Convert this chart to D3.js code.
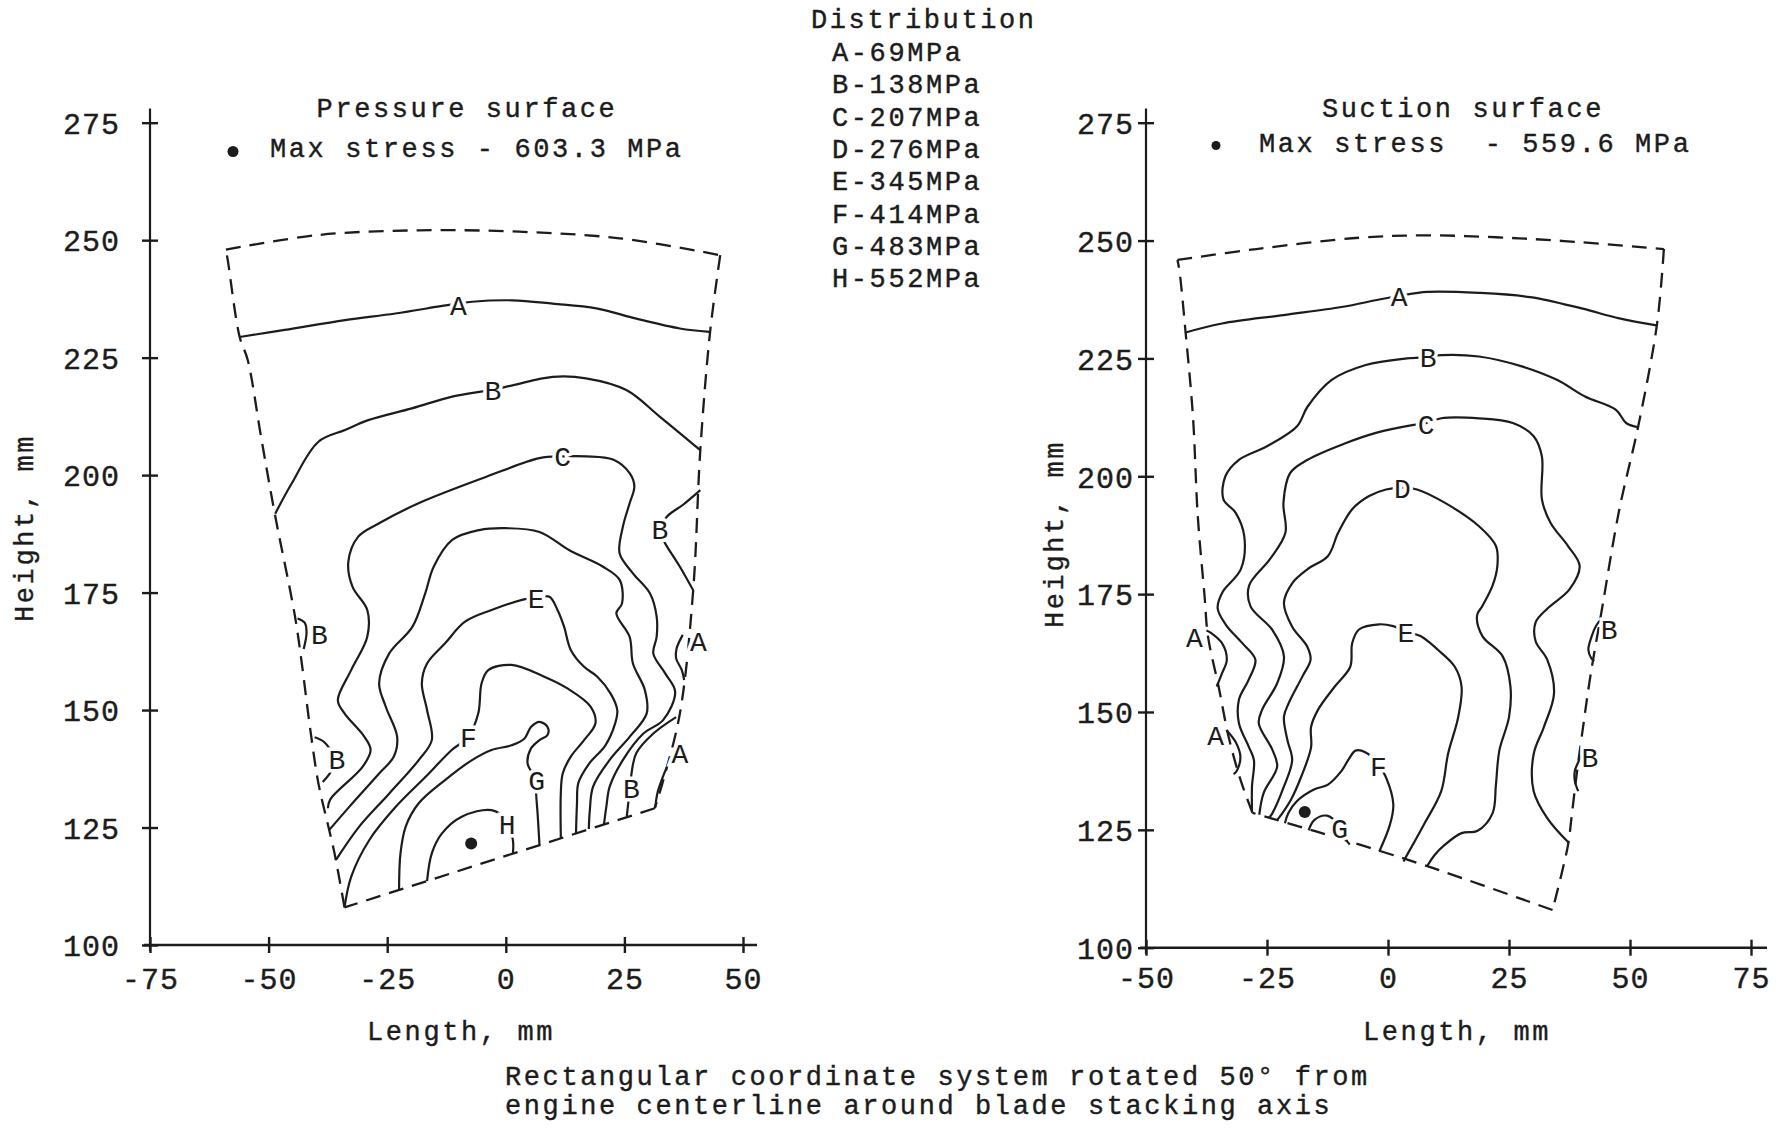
<!DOCTYPE html>
<html>
<head>
<meta charset="utf-8">
<script src="https://cdn.jsdelivr.net/npm/d3@7"></script>
<style>
  body { margin: 0; background: #fff; }
  svg text { font-family: "Liberation Mono", "Courier New", monospace; fill: #1c1c1c; }
  svg text.ink { stroke: #1c1c1c; stroke-width: 0.4px; }
</style>
</head>
<body>
<svg id="chart" width="1783" height="1132"></svg>
<script>
// ---------------- DATA (mm) ----------------
const levelNames = ["A-69MPa", "B-138MPa", "C-207MPa", "D-276MPa", "E-345MPa", "F-414MPa", "G-483MPa", "H-552MPa"];
const yTicks = [100, 125, 150, 175, 200, 225, 250, 275];
const xTicksPressure = [-75, -50, -25, 0, 25, 50];
const xTicksSuction = [-50, -25, 0, 25, 50, 75];

// Pressure surface - blade outline (dashed)
const pressureTop = [[-59.0, 248.0], [-39.5, 251.1], [-18.4, 252.1], [2.8, 251.8], [24.0, 250.4], [45.2, 246.8]];
const pressureRight = [[45.2, 246.8], [43.1, 230.8], [41.0, 205.3], [39.5, 175.5], [36.7, 149.3], [33.2, 135.1], [31.4, 129.1]];
const pressureBottom = [[31.4, 129.1], [-34.0, 108.0]];
const pressureLeft = [[-34.0, 108.0], [-36.1, 119.5], [-37.4, 125.2], [-39.5, 134.4], [-41.3, 146.5], [-43.1, 160.7], [-44.5, 170.3],
  [-48.7, 191.8], [-51.6, 208.2], [-54.4, 224.5], [-56.1, 229.4], [-58.6, 245.7], [-59.0, 248.0]];

// Pressure surface - iso-stress lines
const pressureA = [[-56.1, 229.4], [-46.6, 230.9], [-33.9, 233.0], [-23.3, 234.4], [-13.4, 236.0], [-10.0, 236.5], [-7.1, 236.9],
  [1.4, 237.2], [9.9, 236.5], [19.1, 235.5], [27.5, 233.3], [36.7, 231.2], [42.9, 230.5]];
const pressureB = [[-48.6, 191.8], [-45.2, 198.1], [-39.5, 207.1], [-33.9, 209.6], [-29.0, 211.7], [-19.8, 214.2], [-11.3, 216.7],
  [-2.7, 218.2], [1.4, 219.1], [9.9, 220.9], [16.9, 220.6], [25.4, 218.1], [32.5, 212.4], [41.0, 205.3]];
const pressureBRight = [[41.0, 196.8], [37.5, 193.8], [33.9, 191.1], [32.5, 188.3], [33.2, 186.2], [36.7, 180.5], [39.5, 175.5]];
const pressureBSmallTop = [[-43.9, 169.5], [-42.4, 168.6], [-42.0, 166.5], [-42.6, 163.0]];
const pressureBSmallLow = [[-40.3, 144.2], [-38.3, 143.2], [-36.6, 140.5], [-36.6, 137.5], [-38.6, 134.7]];
const pressureBLow = [[35.9, 148.5], [31.1, 145.0], [27.5, 140.8], [26.5, 136.5], [26.2, 133.3], [25.8, 130.1], [25.5, 127.3]];
const pressureASmall = [[37.3, 166.0], [36.0, 163.1], [35.9, 161.0], [37.1, 158.5], [37.6, 156.4]];
const pressureALow = [[34.2, 138.5], [33.0, 135.5], [32.0, 132.5], [31.5, 129.3]];
const pressureC = [[-37.5, 129.1], [-37.0, 131.0], [-30.2, 137.9], [-28.5, 141.5], [-29.8, 144.3], [-34.0, 149.3], [-35.4, 152.1],
  [-32.6, 158.5], [-29.2, 165.6], [-29.2, 171.3], [-32.3, 176.2], [-33.2, 181.5], [-31.1, 186.9], [-26.8, 189.7], [-18.4, 194.0],
  [-4.2, 199.6], [7.1, 203.6], [12.0, 204.0], [16.9, 204.0], [22.6, 203.3], [26.1, 200.4], [27.1, 197.6], [26.1, 194.0],
  [24.7, 189.1], [24.0, 183.3], [26.8, 179.1], [30.4, 174.8], [31.8, 169.9], [31.8, 165.6], [31.1, 162.0], [33.6, 157.8],
  [35.7, 153.9], [33.2, 147.9], [29.0, 145.0], [24.7, 139.4], [21.9, 133.7], [21.2, 129.5], [20.7, 125.7]];
const pressureD = [[-37.2, 124.5], [-33.0, 129.4], [-26.7, 136.5], [-23.6, 140.1], [-22.9, 144.3], [-25.3, 150.7], [-26.7, 155.7],
  [-24.6, 162.0], [-19.7, 167.7], [-17.0, 174.8], [-15.2, 180.5], [-11.3, 186.2], [-5.6, 188.3], [0.0, 188.7], [7.1, 187.9],
  [13.4, 184.0], [20.5, 180.5], [24.0, 177.7], [24.5, 172.7], [23.3, 170.6], [26.1, 165.6], [26.8, 159.9], [29.3, 154.3],
  [29.7, 149.3], [26.1, 144.3], [21.9, 139.4], [18.4, 133.7], [17.7, 128.5], [17.5, 124.7]];
const pressureE = [[-35.8, 118.1], [-30.9, 125.2], [-24.6, 132.2], [-18.4, 139.3], [-15.6, 143.6], [-16.6, 150.0], [-17.7, 155.7],
  [-16.6, 159.9], [-12.8, 164.2], [-8.6, 168.8], [-3.0, 171.3], [3.6, 173.5], [6.4, 174.0], [9.2, 174.1], [10.9, 171.3],
  [12.3, 167.7], [13.7, 162.8], [16.5, 159.2], [19.3, 157.1], [22.1, 153.5], [23.5, 150.0], [23.0, 147.0], [21.0, 142.5],
  [17.5, 138.5], [15.3, 134.5], [15.0, 130.0], [14.8, 123.8]];
const pressureF = [[-34.0, 108.0], [-32.6, 114.5], [-28.8, 122.3], [-23.2, 129.4], [-16.9, 135.8], [-11.4, 141.5], [-7.9, 144.3],
  [-5.8, 149.3], [-5.1, 155.7], [-3.7, 158.5], [1.2, 159.6], [8.1, 157.1], [13.0, 154.6], [17.9, 150.7], [18.9, 147.2],
  [16.5, 143.6], [13.7, 140.1], [12.0, 136.5], [11.6, 132.3], [11.6, 122.8]];
const pressureG = [[-22.5, 111.7], [-22.2, 119.5], [-21.1, 125.2], [-18.4, 130.1], [-12.8, 135.1], [-7.2, 139.3], [-3.0, 141.5],
  [1.2, 142.5], [3.9, 143.9], [5.3, 146.4], [7.1, 147.5], [8.8, 146.4], [8.8, 144.7], [7.1, 143.6], [5.3, 141.8], [4.6, 138.6],
  [6.4, 135.1], [6.4, 132.2], [6.7, 128.0], [7.1, 121.3]];
const pressureH = [[-16.6, 113.6], [-15.6, 119.5], [-13.5, 123.7], [-9.3, 127.3], [-3.0, 128.7], [0.1, 126.6], [1.5, 122.3], [1.5, 119.5]];
const pressureLabels = [["A", -10.0, 236.3], ["B", -2.7, 218.1], ["C", 12.0, 204.0], ["B", 32.5, 188.6], ["E", 6.4, 173.8],
  ["B", -39.3, 166.1], ["A", 40.6, 164.8], ["F", -7.9, 144.3], ["B", -35.6, 139.6], ["A", 36.7, 140.9], ["B", 26.5, 133.5],
  ["G", 6.5, 135.2], ["H", 0.3, 125.8]];
const pressurePeak = [-7.3, 121.6];

// Suction surface - blade outline (dashed)
const suctionTop = [[-43.5, 245.9], [-27.2, 248.2], [-6.0, 250.6], [8.1, 251.1], [22.3, 250.7], [36.4, 249.9], [57.0, 248.2]];
const suctionRight = [[57.0, 248.2], [55.6, 232.4], [51.7, 210.6], [47.8, 193.0], [44.2, 171.8], [41.8, 157.5], [40.3, 146.8],
  [38.9, 136.1], [37.9, 127.5], [37.2, 121.8], [34.0, 108.0]];
const suctionBottom = [[34.0, 108.0], [8.1, 117.3], [-6.0, 121.9], [-17.3, 125.4], [-28.0, 128.6]];
const suctionLeft = [[-28.0, 128.6], [-30.4, 135.4], [-32.9, 144.6], [-35.0, 155.4], [-37.2, 166.1], [-37.9, 174.6], [-39.3, 191.5],
  [-40.3, 212.7], [-41.8, 230.3], [-43.1, 243.7], [-43.5, 245.9]];

// Suction surface - iso-stress lines
const suctionA = [[-41.8, 230.5], [-34.3, 232.4], [-21.6, 234.2], [-9.6, 235.9], [-1.8, 237.5], [2.5, 238.3], [8.1, 239.1],
  [18.8, 238.9], [29.4, 238.0], [40.0, 235.6], [47.8, 233.5], [55.5, 232.0]];
const suctionASmallTop = [[-37.5, 167.3], [-36.6, 166.8], [-34.3, 164.6], [-33.3, 161.1], [-34.3, 158.2], [-35.4, 155.4]];
const suctionASmallLow = [[-33.4, 146.2], [-31.4, 143.5], [-30.5, 140.5], [-31.2, 137.6], [-31.9, 136.8]];
const suctionB = [[-28.1, 128.8], [-28.1, 134.2], [-27.7, 139.8], [-28.8, 142.7], [-30.8, 147.6], [-30.8, 152.6], [-28.8, 156.8],
  [-27.4, 161.1], [-30.1, 164.6], [-33.5, 168.5], [-35.2, 172.0], [-34.2, 175.4], [-30.4, 180.3], [-29.7, 187.3], [-31.5, 192.3],
  [-34.0, 195.1], [-33.6, 200.0], [-30.8, 203.5], [-25.1, 206.3], [-18.8, 210.6], [-16.6, 214.8], [-11.7, 220.4], [-4.6, 223.6],
  [3.9, 225.0], [8.5, 225.3], [11.0, 225.7], [18.8, 225.4], [28.0, 223.2], [35.0, 220.4], [40.7, 216.9], [47.1, 214.1],
  [49.2, 211.3], [51.7, 210.4]];
const suctionBSmallTop = [[43.9, 169.5], [43.0, 168.3], [42.1, 166.1], [41.4, 163.2], [42.0, 161.4], [42.6, 160.8]];
const suctionBSmallLow = [[40.3, 141.5], [39.6, 140.0], [38.6, 137.5], [38.6, 135.4], [39.3, 133.2]];
const suctionC = [[-26.6, 128.2], [-25.7, 132.8], [-22.9, 138.4], [-23.9, 142.0], [-26.7, 147.6], [-26.0, 150.5], [-22.9, 156.1],
  [-21.5, 161.8], [-23.9, 167.4], [-28.4, 172.4], [-28.7, 176.8], [-24.4, 182.4], [-21.2, 188.0], [-21.6, 194.4], [-20.2, 200.7],
  [-16.6, 203.5], [-8.8, 207.0], [-2.5, 209.2], [5.3, 210.9], [8.1, 211.3], [11.0, 212.3], [18.8, 212.3], [25.8, 211.3],
  [30.1, 208.5], [31.8, 204.2], [31.8, 195.1], [33.6, 190.1], [37.2, 185.2], [39.6, 181.0], [37.5, 176.0], [33.0, 172.0],
  [30.5, 169.0], [30.5, 165.0], [32.9, 161.1], [34.3, 153.9], [32.2, 146.8], [30.1, 141.1], [30.1, 133.2], [32.9, 127.5], [37.3, 122.3]];
const suctionD = [[-24.6, 127.5], [-23.9, 128.5], [-21.5, 134.2], [-19.8, 139.8], [-20.8, 144.1], [-21.5, 149.0], [-20.5, 151.9],
  [-17.7, 157.5], [-16.0, 161.1], [-16.7, 163.9], [-19.8, 168.1], [-21.5, 173.1], [-19.8, 177.3], [-16.6, 180.3], [-12.4, 183.1],
  [-10.3, 188.0], [-7.4, 193.0], [-3.9, 195.8], [-0.4, 197.2], [3.2, 197.6], [6.0, 197.2], [11.7, 194.4], [18.8, 189.4],
  [22.3, 185.2], [22.6, 181.0], [21.6, 176.8], [19.5, 172.5], [18.4, 170.5], [19.5, 166.1], [23.7, 161.8], [25.3, 155.4],
  [25.0, 148.9], [23.0, 141.8], [22.3, 134.6], [21.6, 128.5], [18.5, 124.8], [15.2, 124.3], [11.7, 121.8], [9.6, 119.6], [8.1, 117.3]];
const suctionE = [[-23.0, 127.0], [-22.0, 128.3], [-20.0, 131.5], [-18.0, 136.1], [-15.9, 142.5], [-15.9, 146.8], [-14.5, 150.4],
  [-11.0, 155.4], [-7.8, 159.6], [-7.4, 164.6], [-6.0, 167.5], [-1.8, 168.6], [1.1, 168.2], [3.9, 167.0], [6.7, 166.1],
  [10.3, 163.2], [13.8, 159.6], [15.2, 155.4], [14.5, 148.9], [12.4, 141.1], [11.0, 133.2], [7.4, 126.1], [3.9, 119.6], [3.2, 118.3]];
const suctionF = [[-21.3, 126.4], [-20.6, 128.5], [-18.8, 131.1], [-15.2, 133.6], [-12.4, 134.6], [-9.6, 137.5], [-8.1, 140.0],
  [-6.7, 141.8], [-4.6, 141.4], [-1.8, 138.6], [-0.4, 136.1], [1.1, 130.4], [0.4, 126.1], [-1.8, 120.4]];
const suctionG = [[-16.4, 124.9], [-15.2, 127.1], [-12.6, 128.0], [-10.0, 125.8], [-8.6, 122.8], [-7.9, 121.9]];
const suctionLabels = [["A", 2.3, 238.3], ["B", 8.3, 225.3], ["C", 7.9, 211.0], ["D", 3.0, 197.5], ["E", 3.7, 166.9],
  ["F", -2.0, 138.5], ["G", -10.0, 125.5], ["A", -40.0, 166.0], ["A", -35.6, 145.1], ["B", 45.7, 167.7], ["B", 41.7, 140.4]];
const suctionPeak = [-17.2, 128.8];

// ---------------- DRAWING ----------------
const svg = d3.select("#chart");
const ink = "#1c1c1c";

function drawPanel(p) {
  var g = svg.append("g");

  var x = d3.scaleLinear().domain(p.xDomain).range(p.xRange);
  var y = d3.scaleLinear().domain([100, 275]).range(p.yRange);

  var line = d3.line()
    .x(d => x(d[0]))
    .y(d => y(d[1]))
    .curve(d3.curveCatmullRom.alpha(0.5));

  // Axes (ticks cross the axis line)
  var xAxis = d3.axisBottom(x).tickValues(p.xTicks).tickFormat(d => String(d)).tickSizeOuter(0);
  var yAxis = d3.axisLeft(y).tickValues(yTicks).tickFormat(d => String(d)).tickSizeOuter(0);

  var gx = g.append("g").attr("transform", `translate(0,${y(100)})`).call(xAxis);
  var gy = g.append("g").attr("transform", `translate(${x(p.xDomain[0])},0)`).call(yAxis);
  [gx, gy].forEach(a => {
    a.attr("font-family", null).attr("font-size", null);
    a.select(".domain").remove();
    a.selectAll(".tick line").attr("stroke", ink).attr("stroke-width", 2.4);
    a.selectAll(".tick text").attr("class", "ink").style("font-size", "30px").style("letter-spacing", "1px").attr("fill", ink);
  });
  gx.selectAll(".tick line").attr("y1", -8).attr("y2", 8);
  gx.selectAll(".tick text").attr("y", p.xLabelOffset).attr("dy", null);
  gy.selectAll(".tick line").attr("x1", -8).attr("x2", 8);
  gy.selectAll(".tick text").attr("x", p.yLabelOffset).attr("dy", "0.36em");

  g.append("line")
    .attr("x1", x(p.xDomain[0]) - 6).attr("x2", x(p.xDomain[1]) + p.xAxisExtra)
    .attr("y1", y(100)).attr("y2", y(100))
    .attr("stroke", ink).attr("stroke-width", 2.6);
  g.append("line")
    .attr("x1", x(p.xDomain[0])).attr("x2", x(p.xDomain[0]))
    .attr("y1", y(100) + 6).attr("y2", y(278))
    .attr("stroke", ink).attr("stroke-width", 2.2);

  // Blade outline
  g.selectAll("path.outline").data(p.outline).join("path")
    .attr("class", "outline")
    .attr("d", line)
    .attr("fill", "none").attr("stroke", ink)
    .attr("stroke-width", 2.3).attr("stroke-dasharray", "15 9");

  // Iso-stress lines
  g.selectAll("path.iso").data(p.lines).join("path")
    .attr("class", "iso")
    .attr("d", line)
    .attr("fill", "none").attr("stroke", ink)
    .attr("stroke-width", 2.2).attr("stroke-linejoin", "round");

  // Line labels (white halo cuts the line)
  g.selectAll("text.lvl").data(p.labels).join("text")
    .attr("class", "lvl")
    .attr("x", d => x(d[1])).attr("y", d => y(d[2]))
    .attr("text-anchor", "middle").attr("dy", "0.36em")
    .style("font-size", "28px")
    .attr("stroke", "#fff").attr("stroke-width", 7).attr("paint-order", "stroke")
    .text(d => d[0]);

  // Location of max stress
  g.append("circle")
    .attr("cx", x(p.peak[0])).attr("cy", y(p.peak[1])).attr("r", 6).attr("fill", ink);

  // Titles
  g.append("text").attr("class", "ink").attr("x", p.titleX).attr("y", 117).attr("text-anchor", "middle")
    .style("font-size", "27px").style("letter-spacing", "2.6px").text(p.title);
  g.append("circle").attr("cx", p.dot[0]).attr("cy", p.dot[1]).attr("r", p.dot[2]).attr("fill", ink);
  g.append("text").attr("class", "ink").attr("x", p.maxX).attr("y", p.maxY)
    .style("font-size", "27px").style("letter-spacing", "2.6px").style("white-space", "pre").text(p.maxText);

  // Axis titles
  g.append("text").attr("class", "ink").attr("x", p.titleX - 6).attr("y", 1040).attr("text-anchor", "middle")
    .style("font-size", "27px").style("letter-spacing", "2.6px").text("Length, mm");
  g.append("text").attr("class", "ink").attr("transform", `translate(${p.yTitleX},${p.yTitleY}) rotate(-90)`)
    .attr("text-anchor", "middle")
    .style("font-size", "27px").style("letter-spacing", "2.6px").text("Height, mm");
}

drawPanel({
  xDomain: [-75, 50], xRange: [150, 743], yRange: [945, 122.7], xTicks: xTicksPressure,
  yLabelOffset: -30, xLabelOffset: 44, xAxisExtra: 14,
  outline: [pressureTop, pressureRight, pressureBottom, pressureLeft],
  lines: [pressureA, pressureB, pressureBRight, pressureBSmallTop, pressureBSmallLow, pressureBLow, pressureASmall, pressureALow,
    pressureC, pressureD, pressureE, pressureF, pressureG, pressureH],
  labels: pressureLabels, peak: pressurePeak,
  title: "Pressure surface", titleX: 467,
  maxText: "Max stress - 603.3 MPa", maxX: 270, maxY: 157, dot: [233, 151.5, 5.5],
  yTitleX: 33, yTitleY: 528
});

drawPanel({
  xDomain: [-50, 75], xRange: [1146, 1751], yRange: [947.7, 122.7], xTicks: xTicksSuction,
  yLabelOffset: -12, xLabelOffset: 40, xAxisExtra: 16,
  outline: [suctionTop, suctionRight, suctionBottom, suctionLeft],
  lines: [suctionA, suctionASmallTop, suctionASmallLow, suctionB, suctionBSmallTop, suctionBSmallLow, suctionC, suctionD,
    suctionE, suctionF, suctionG],
  labels: suctionLabels, peak: suctionPeak,
  title: "Suction surface", titleX: 1463,
  maxText: "Max stress  - 559.6 MPa", maxX: 1259, maxY: 152, dot: [1216, 145.5, 4.5],
  yTitleX: 1063, yTitleY: 534
});

// Legend
svg.append("text").attr("class", "ink").attr("x", 811).attr("y", 28)
  .style("font-size", "27px").style("letter-spacing", "2.6px").text("Distribution");
svg.selectAll("text.legend").data(levelNames).join("text")
  .attr("class", "legend ink")
  .attr("x", 832).attr("y", (d, i) => 61 + i * 32.3)
  .style("font-size", "27px").style("letter-spacing", "2.6px")
  .text(d => d);

// Caption
svg.append("text").attr("class", "ink").attr("x", 505).attr("y", 1085)
  .style("font-size", "27px").style("letter-spacing", "2.6px")
  .text("Rectangular coordinate system rotated 50\u00b0 from");
svg.append("text").attr("class", "ink").attr("x", 505).attr("y", 1114)
  .style("font-size", "27px").style("letter-spacing", "2.6px")
  .text("engine centerline around blade stacking axis");
</script>
</body>
</html>
